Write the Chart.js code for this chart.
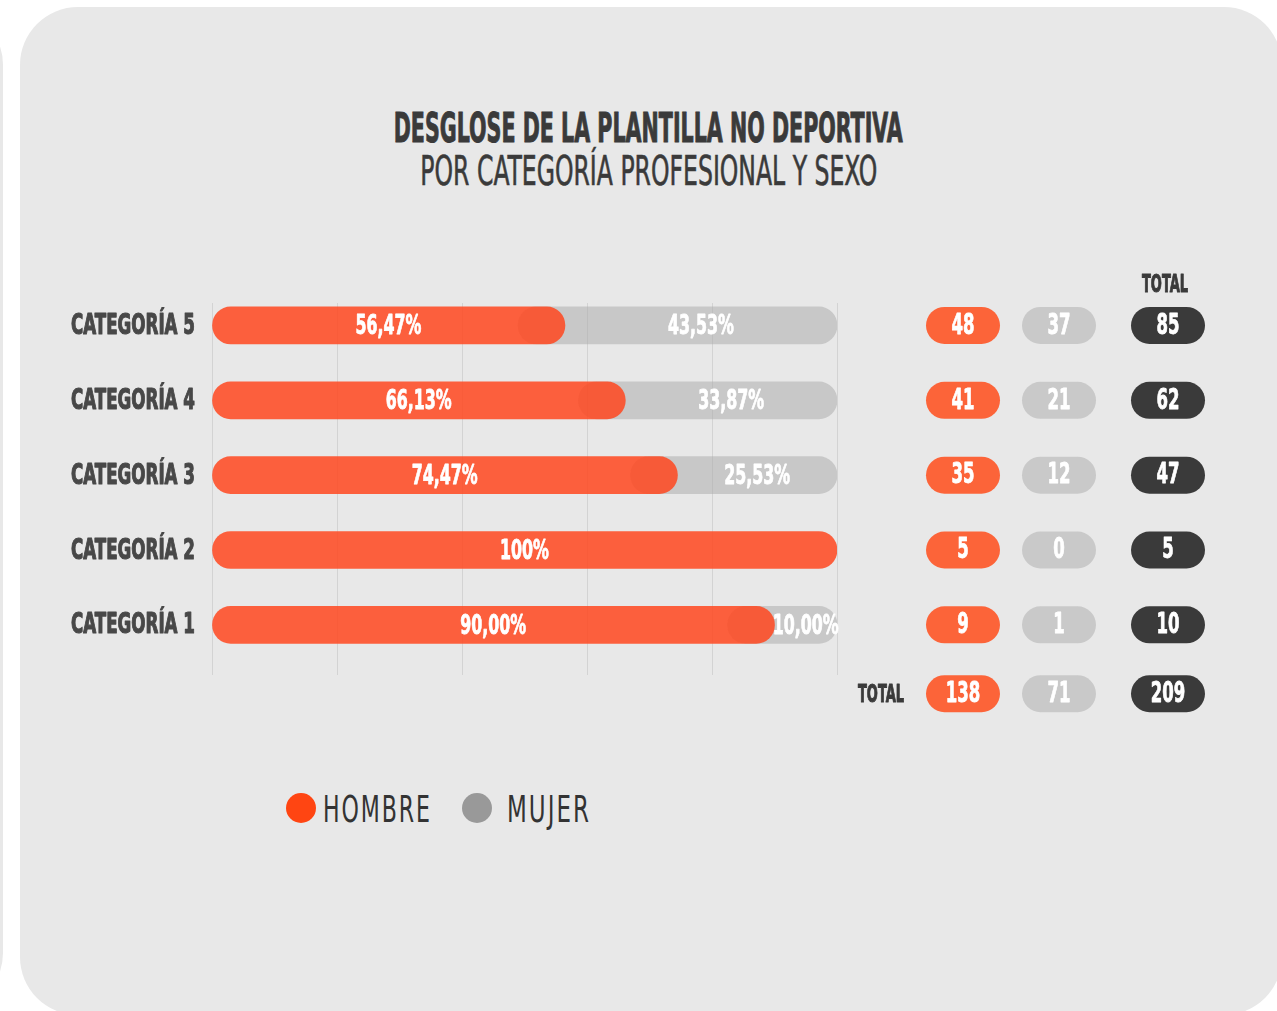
<!DOCTYPE html>
<html><head><meta charset="utf-8">
<script src="https://cdn.jsdelivr.net/npm/chart.js@4.4.1/dist/chart.umd.min.js"></script>
<style>
html,body{margin:0;padding:0;background:#fff;width:1277px;height:1011px;overflow:hidden;position:relative}
body{font-family:'Liberation Sans Narrow','DejaVu Sans Condensed','Roboto',sans-serif}
.card{position:absolute;left:20px;top:7px;width:1262px;height:1008px;background:#e8e8e8;border-radius:58px}
.prev{position:absolute;left:-1000px;top:7px;width:1003px;height:1004px;background:#e8e8e8;border-radius:58px}
.tl{position:absolute;left:0;width:1297px;text-align:center;color:#3a3a3a;font-size:41px;line-height:41px;white-space:nowrap}
.tl span{display:inline-block;transform-origin:50% 50%}
#t1{top:108px;font-weight:bold;-webkit-text-stroke:1px #3a3a3a}
#t2{top:151px;font-weight:normal;-webkit-text-stroke:0.6px #3a3a3a}
.lg{position:absolute;top:787px;height:44px;font-size:38px;line-height:44px;color:#333;white-space:nowrap;letter-spacing:3px}
.lg span{display:inline-block;transform-origin:0 50%}
.dot{position:absolute;width:30px;height:30px;border-radius:50%;top:793px}
canvas{position:absolute;left:0;top:0}
</style></head>
<body>
<div class="prev"></div>
<div class="card"></div>
<div class="tl" id="t1"><span data-w="509">DESGLOSE DE LA PLANTILLA NO DEPORTIVA</span></div>
<div class="tl" id="t2"><span data-w="457">POR CATEGORÍA PROFESIONAL Y SEXO</span></div>
<div class="dot" style="left:286px;background:#ff4512"></div>
<div class="lg" style="left:323px"><span data-w="109" id="lgH">HOMBRE</span></div>
<div class="dot" style="left:462px;background:#999999"></div>
<div class="lg" style="left:507px"><span data-w="84" id="lgM">MUJER</span></div>
<canvas id="c" width="1277" height="1011"></canvas>
<script>
// ---- data ----
const categories = ['CATEGORÍA 5','CATEGORÍA 4','CATEGORÍA 3','CATEGORÍA 2','CATEGORÍA 1'];
const hombre = [48, 41, 35, 5, 9];
const mujer = [37, 21, 12, 0, 1];
const pctHombre = [56.47, 66.13, 74.47, 100, 90.00];
const pctMujer = [43.53, 33.87, 25.53, 0, 10.00];
const pctHombreLabels = ['56,47%', '66,13%', '74,47%', '100%', '90,00%'];
const pctMujerLabels = ['43,53%', '33,87%', '25,53%', '', '10,00%'];
const seriesNames = ['HOMBRE', 'MUJER'];
const totalLabel = 'TOTAL';

// ---- style ----
const FONT = "'Liberation Sans Narrow','DejaVu Sans Condensed','Roboto',sans-serif";
const ORANGE = 'rgba(255,70,30,0.85)';
const GRAY = 'rgba(168,168,168,0.5)';
const PILL_O = '#fc6439', PILL_G = '#c9c9c9', PILL_D = '#3a3a3a';
const OVERLAP = 7.5; // rounded cap of the grey bar tucked under the orange one (axis units)

// fit HTML text widths (condensed look)
document.querySelectorAll('span[data-w]').forEach(s => {
  const w = s.getBoundingClientRect().width;
  s.style.transform = 'scaleX(' + (parseFloat(s.dataset.w) / w) + ')';
});

function squeeze(ctx, font, sample, targetW) {
  ctx.save(); ctx.font = font;
  const w = ctx.measureText(sample).width;
  ctx.restore();
  return targetW / w;
}
function txt(ctx, s, x, y, font, color, align, sx, stroke) {
  ctx.save();
  ctx.font = font;
  ctx.fillStyle = color;
  ctx.textBaseline = 'middle';
  ctx.textAlign = align;
  ctx.translate(x, y);
  ctx.scale(sx, 1);
  ctx.fillText(s, 0, 0);
  if (stroke) {
    ctx.strokeStyle = color;
    ctx.lineWidth = stroke;
    ctx.lineJoin = 'round';
    ctx.strokeText(s, 0, 0);
  }
  ctx.restore();
}
function pill(ctx, cx, cy, color, s, f, sx) {
  ctx.save();
  ctx.fillStyle = color;
  ctx.beginPath();
  ctx.roundRect(cx - 37, cy - 18.5, 74, 37, 18.5);
  ctx.fill();
  ctx.restore();
  txt(ctx, s, cx, cy + 1, f, '#ffffff', 'center', sx, 0.8);
}

const labelsPlugin = {
  id: 'labelsPlugin',
  afterDatasetsDraw(chart) {
    const ctx = chart.ctx, x = chart.scales.x, y = chart.scales.y;
    // category labels (y axis)
    const fc = 'bold 29px ' + FONT;
    const sc = squeeze(ctx, fc, 'CATEGORÍA 5', 124);
    categories.forEach((c, i) => {
      txt(ctx, c, x.left - 17, y.getPixelForValue(i) + 1, fc, '#484848', 'right', sc, 1.2);
    });
    // percentage labels
    const f = 'bold 27px ' + FONT;
    const sb = squeeze(ctx, f, '56,47%', 66);
    categories.forEach((c, i) => {
      const yy = y.getPixelForValue(i) + 2;
      if (pctHombre[i] > 0) {
        txt(ctx, pctHombreLabels[i], x.getPixelForValue(pctHombre[i] / 2), yy, f, '#ffffff', 'center', sb, 0.8);
      }
      if (pctMujer[i] > 0) {
        txt(ctx, pctMujerLabels[i], x.getPixelForValue(pctHombre[i] + pctMujer[i] / 2), yy, f, '#ffffff', 'center', sb, 0.8);
      }
    });
    // table on the right
    const fp = 'bold 28px ' + FONT;
    const sp = squeeze(ctx, fp, '48', 23);
    const cols = [963, 1059, 1168];
    const colors = [PILL_O, PILL_G, PILL_D];
    categories.forEach((c, i) => {
      const yy = y.getPixelForValue(i);
      const vals = [hombre[i], mujer[i], hombre[i] + mujer[i]];
      colors.forEach((col, k) => pill(ctx, cols[k], yy, col, String(vals[k]), fp, sp));
    });
    const yT = y.getPixelForValue(categories.length - 1 + 0.92);
    const sumH = hombre.reduce((a, b) => a + b, 0);
    const sumM = mujer.reduce((a, b) => a + b, 0);
    [sumH, sumM, sumH + sumM].forEach((v, k) => pill(ctx, cols[k], yT, colors[k], String(v), fp, sp));
    const ft = 'bold 25px ' + FONT;
    const st = squeeze(ctx, ft, totalLabel, 46);
    txt(ctx, totalLabel, 881, yT + 2, ft, '#3a3a3a', 'center', st, 1);
    txt(ctx, totalLabel, 1165, y.getPixelForValue(-0.53), ft, '#3a3a3a', 'center', st, 1);
  }
};

new Chart(document.getElementById('c'), {
  type: 'bar',
  data: {
    datasets: [
      {
        label: seriesNames[0],
        data: pctHombre.map((v, i) => ({ y: i, x: v })),
        backgroundColor: ORANGE
      },
      {
        label: seriesNames[1],
        data: pctMujer.map((v, i) => v > 0 ? { y: i, x: [pctHombre[i] - OVERLAP, pctHombre[i] + v] } : null).filter(Boolean),
        backgroundColor: GRAY
      }
    ]
  },
  options: {
    responsive: false,
    animation: false,
    devicePixelRatio: 1,
    indexAxis: 'y',
    layout: { padding: { top: 303, bottom: 336, right: 440, left: 0 } },
    datasets: { bar: { grouped: false, barThickness: 37, borderRadius: 18.5, borderSkipped: false } },
    plugins: { legend: { display: false }, tooltip: { enabled: false }, title: { display: false } },
    scales: {
      x: {
        type: 'linear', min: 0, max: 100,
        ticks: { display: false, stepSize: 20 },
        grid: { color: 'rgba(0,0,0,0.09)', drawTicks: false, lineWidth: 1 },
        border: { display: false }
      },
      y: {
        type: 'linear', min: -0.30, max: 4.67, reverse: true, offset: false,
        grid: { display: false }, border: { display: false },
        afterBuildTicks: s => { s.ticks = categories.map((c, i) => ({ value: i })); },
        afterFit: s => { s.width = 212; },
        ticks: { display: false, callback: v => categories[v] }
      }
    }
  },
  plugins: [labelsPlugin]
});
</script>
</body></html>
